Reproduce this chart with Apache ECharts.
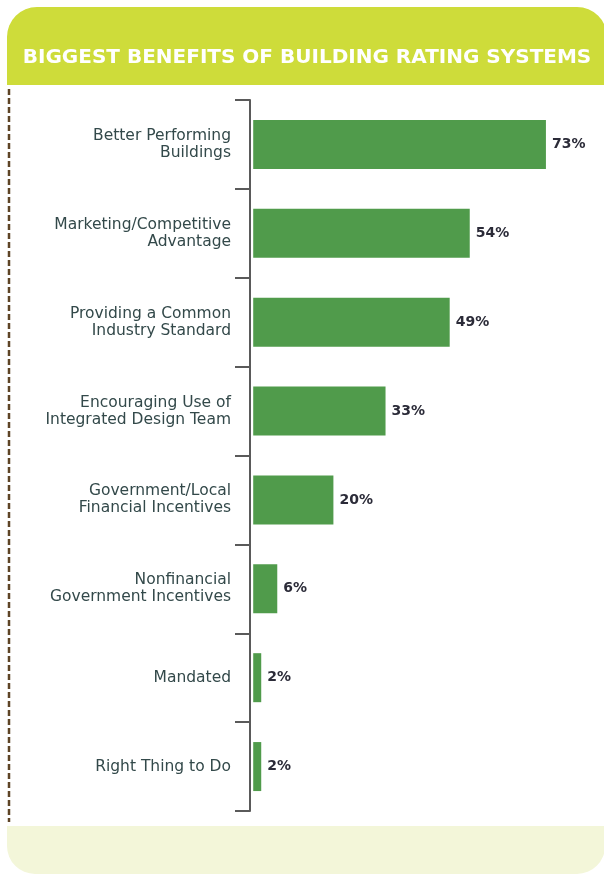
<!DOCTYPE html>
<html>
<head>
<meta charset="utf-8">
<script src="https://cdn.jsdelivr.net/npm/echarts@6/dist/echarts.min.js"></script>
<style>
  html, body { margin: 0; padding: 0; background: #ffffff; }
  #chart { width: 604px; height: 875px; }
</style>
</head>
<body>
<div id="chart"></div>
<script>
// Survey answers, top to bottom
const categories = [
  'Better Performing\nBuildings',
  'Marketing/Competitive\nAdvantage',
  'Providing a Common\nIndustry Standard',
  'Encouraging Use of\nIntegrated Design Team',
  'Government/Local\nFinancial Incentives',
  'Nonfinancial\nGovernment Incentives',
  'Mandated',
  'Right Thing to Do'
];
// Share of respondents (%)
const shares = [73, 54, 49, 33, 20, 6, 2, 2];

const titleText = 'BIGGEST BENEFITS OF BUILDING RATING SYSTEMS';

const chart = echarts.init(document.getElementById('chart'), null, { renderer: 'canvas' });

chart.setOption({
  backgroundColor: '#ffffff',
  animation: false,
  graphic: [
    {
      // green title band with rounded top corners
      type: 'rect',
      z: 0,
      shape: { x: 7, y: 7, width: 600, height: 78, r: [30, 30, 0, 0] },
      style: { fill: '#cedc3a' }
    },
    {
      type: 'text',
      z: 1,
      x: 307,
      y: 58,
      style: {
        text: titleText,
        fill: '#ffffff',
        font: 'bold 20px "DejaVu Sans"',
        textAlign: 'center',
        textVerticalAlign: 'middle'
      }
    },
    {
      // dotted rule down the left edge
      type: 'line',
      z: 0,
      shape: { x1: 9, y1: 89, x2: 9, y2: 822 },
      style: { stroke: '#5e4426', lineWidth: 2.5, lineDash: [6, 3] }
    },
    {
      // pale footer band with rounded bottom corners
      type: 'rect',
      z: 0,
      shape: { x: 7, y: 826, width: 598, height: 48, r: [0, 0, 28, 28] },
      style: { fill: '#f3f6d9' }
    }
  ],
  grid: { left: 250, right: 30, top: 100, bottom: 64, containLabel: false },
  xAxis: {
    type: 'value',
    min: -0.8,
    max: 80,
    show: false
  },
  yAxis: {
    type: 'category',
    data: categories,
    inverse: true,
    boundaryGap: true,
    axisLine: { show: true, onZero: false, lineStyle: { color: '#5a5a5a', width: 2 } },
    axisTick: { show: true, length: 15, lineStyle: { color: '#5a5a5a', width: 2 } },
    axisLabel: {
      margin: 19,
      color: '#33494a',
      fontFamily: 'DejaVu Sans',
      fontSize: 15.5,
      lineHeight: 17,
      align: 'right'
    },
    splitLine: { show: false }
  },
  series: [
    {
      type: 'bar',
      data: shares,
      barWidth: 49,
      itemStyle: { color: '#509b4b' },
      label: {
        show: true,
        position: 'right',
        distance: 6,
        formatter: '{c}%',
        color: '#2b2b38',
        fontFamily: 'DejaVu Sans',
        fontWeight: 'bold',
        fontSize: 14
      }
    }
  ]
});
</script>
</body>
</html>
